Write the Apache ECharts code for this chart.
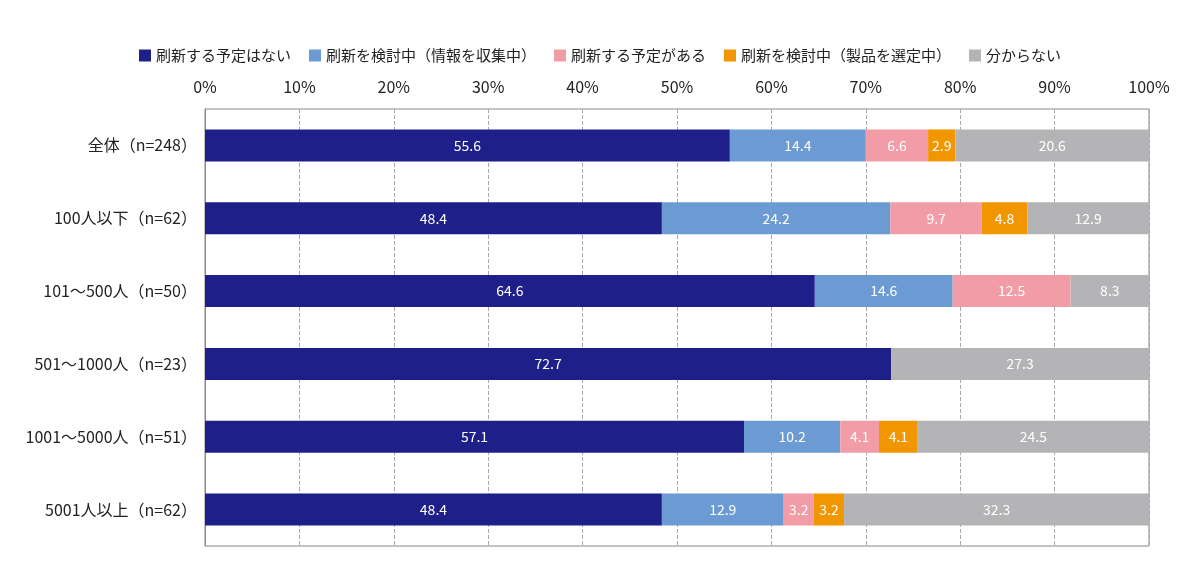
<!DOCTYPE html>
<html><head><meta charset="utf-8">
<script src="https://cdn.jsdelivr.net/npm/echarts@6/dist/echarts.min.js"></script>
<style>html,body{margin:0;background:#fff}#c{width:1200px;height:579px}</style>
</head><body><div id="c"></div>
<script>
const categories=["全体（n=248）","100人以下（n=62）","101～500人（n=50）","501～1000人（n=23）","1001～5000人（n=51）","5001人以上（n=62）"];
const seriesNames=["刷新する予定はない","刷新を検討中（情報を収集中）","刷新する予定がある","刷新を検討中（製品を選定中）","分からない"];
const s1=[55.6,48.4,64.6,72.7,57.1,48.4];
const s2=[14.4,24.2,14.6,0,10.2,12.9];
const s3=[6.6,9.7,12.5,0,4.1,3.2];
const s4=[2.9,4.8,0,0,4.1,3.2];
const s5=[20.6,12.9,8.3,27.3,24.5,32.3];
const colors=["#1f1f8a","#6b9bd2","#f19ca6","#f29600","#b4b4b6"];
const font="Noto Sans CJK JP";
const chart=echarts.init(document.getElementById('c'));
chart.setOption({
 textStyle:{fontFamily:font},
 legend:{top:43,left:'center',itemWidth:12,itemHeight:12,itemGap:18,icon:'rect',
   textStyle:{fontFamily:font,fontSize:15,color:'#222'},data:seriesNames},
 grid:{left:205,right:51,top:109,bottom:33,show:true,borderColor:'#888',borderWidth:1},
 xAxis:{type:'value',position:'top',min:0,max:100,interval:10,
   axisLabel:{formatter:'{value}%',fontSize:16,color:'#222',fontFamily:font,margin:14},
   axisLine:{show:false},axisTick:{show:false},
   splitLine:{lineStyle:{type:'dashed',color:'#aaa'}}},
 yAxis:{type:'category',inverse:true,data:categories,
   axisLabel:{fontSize:16,color:'#222',fontFamily:font,margin:8},
   axisTick:{show:false},axisLine:{lineStyle:{color:'#888'}}},
 series:[s1,s2,s3,s4,s5].map((d,i)=>({name:seriesNames[i],type:'bar',stack:'a',data:d,barWidth:32,
   itemStyle:{color:colors[i]},
   label:{show:true,color:'#fff',fontSize:14,fontFamily:font,formatter:p=>p.value>0?p.value.toFixed(1):''}}))
});
</script></body></html>
